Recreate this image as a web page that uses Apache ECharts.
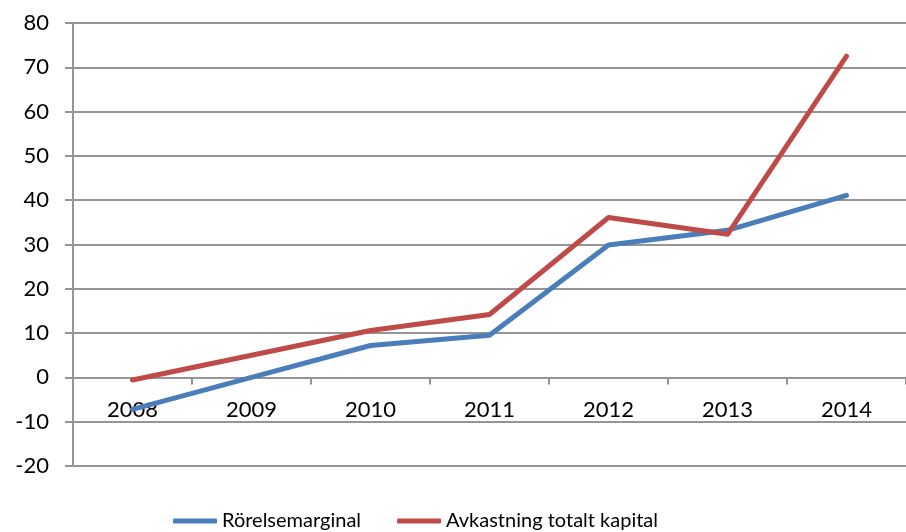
<!DOCTYPE html>
<html>
<head>
<meta charset="utf-8">
<script src="https://cdn.jsdelivr.net/npm/echarts@6/dist/echarts.min.js"></script>
<style>
    html, body { margin: 0; padding: 0; background: #fff; }
    #chart { width: 906px; height: 532px; }
</style>
</head>
<body>
<div id="chart"></div>
<script>
// data
var years = ['2008', '2009', '2010', '2011', '2012', '2013', '2014'];
var rorelsemarginal = [-7.2, 0.0, 7.2, 9.5, 29.9, 33.2, 41.1];
var avkastning = [-0.6, 5.0, 10.6, 14.2, 36.1, 32.3, 72.5];
var seriesNames = ['Rörelsemarginal', 'Avkastning totalt kapital'];

var gridColor = '#959595';
var font = 'Lato';
var gridTop = 23, gridBottomPx = 466;
var yMin = -20, yMax = 80;
// category axis sits on the zero line
var zeroOffset = (gridBottomPx - gridTop) * (0 - yMin) / (yMax - yMin);

var chart = echarts.init(document.getElementById('chart'));

chart.setOption({
    animation: false,
    color: ['#4a7ebb', '#be4b48'],
    grid: {
        left: 73,
        right: -7,
        top: gridTop,
        bottom: 532 - gridBottomPx
    },
    legend: {
        left: 168,
        top: 506,
        itemWidth: 44,
        itemHeight: 5,
        itemGap: 36,
        icon: 'roundRect',
        textStyle: { fontFamily: font, fontSize: 20, color: '#000' },
        data: seriesNames
    },
    xAxis: {
        type: 'category',
        data: years,
        boundaryGap: true,
        offset: -zeroOffset,
        axisLine: { onZero: false, lineStyle: { color: gridColor, width: 2 } },
        axisTick: { show: true, length: 7, lineStyle: { color: gridColor, width: 2 } },
        axisLabel: { margin: 22, fontFamily: font, fontSize: 22, color: '#000' }
    },
    yAxis: {
        type: 'value',
        min: yMin,
        max: yMax,
        interval: 10,
        axisLine: { show: true, lineStyle: { color: gridColor, width: 2 } },
        axisTick: { show: true, length: 8, lineStyle: { color: gridColor, width: 2 } },
        axisLabel: { margin: 24, fontFamily: font, fontSize: 22, color: '#000' },
        splitLine: { lineStyle: { color: gridColor, width: 2 } }
    },
    series: [{
        name: seriesNames[0],
        type: 'line',
        data: rorelsemarginal,
        symbol: 'none',
        lineStyle: { width: 5, cap: 'round', join: 'round' }
    }, {
        name: seriesNames[1],
        type: 'line',
        data: avkastning,
        symbol: 'none',
        lineStyle: { width: 5, cap: 'round', join: 'round' }
    }]
});
</script>
</body>
</html>
